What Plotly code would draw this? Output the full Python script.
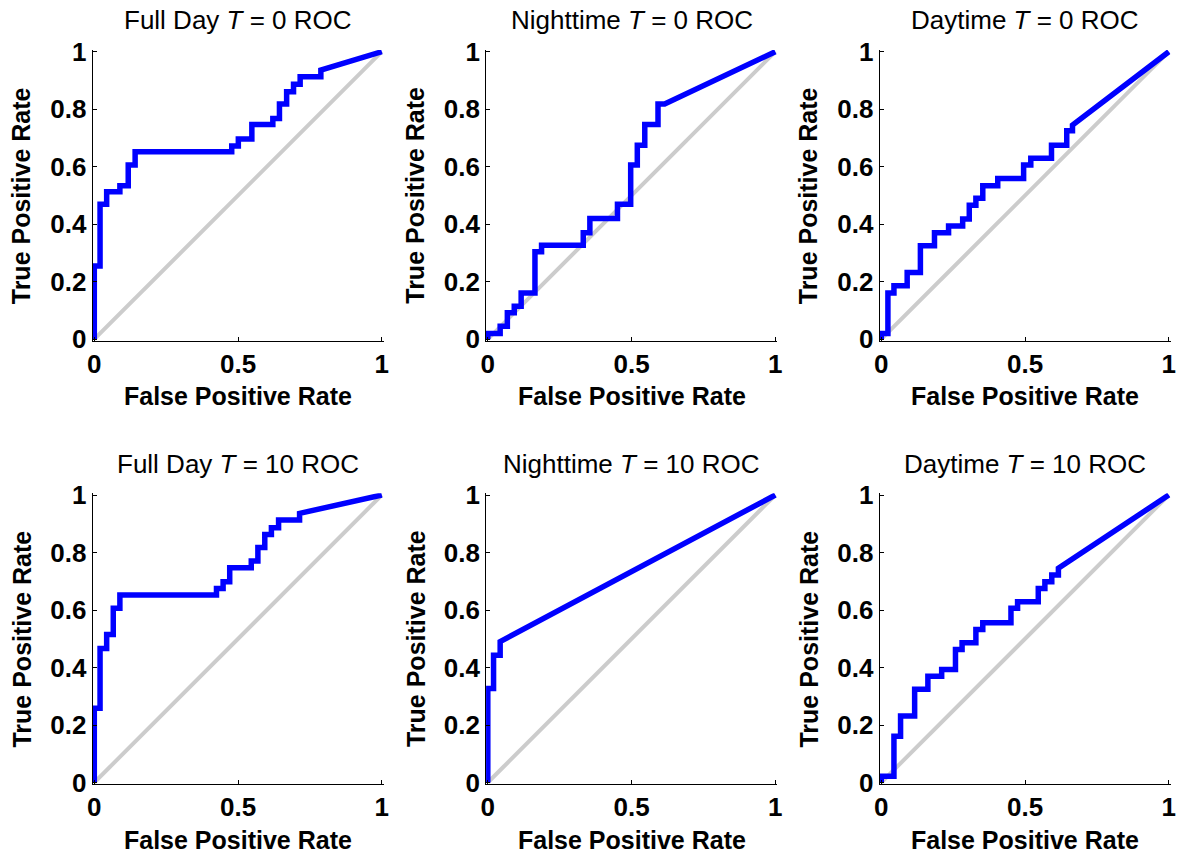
import plotly.graph_objects as go

# ---------------- data ----------------
titles = ["Full Day <i>T</i> = 0 ROC", "Nighttime <i>T</i> = 0 ROC", "Daytime <i>T</i> = 0 ROC",
          "Full Day <i>T</i> = 10 ROC", "Nighttime <i>T</i> = 10 ROC", "Daytime <i>T</i> = 10 ROC"]

fpr_full_t0 = [0, 0, 0.02, 0.02, 0.043, 0.043, 0.089, 0.089, 0.118, 0.118, 0.142, 0.142, 0.478, 0.478,
               0.501, 0.501, 0.548, 0.548, 0.621, 0.621, 0.644, 0.644, 0.669, 0.669, 0.693, 0.693,
               0.716, 0.716, 0.788, 0.788, 1]
tpr_full_t0 = [0, 0.255, 0.255, 0.469, 0.469, 0.513, 0.513, 0.534, 0.534, 0.606, 0.606, 0.652, 0.652, 0.672,
               0.672, 0.696, 0.696, 0.747, 0.747, 0.768, 0.768, 0.818, 0.818, 0.861, 0.861, 0.887,
               0.887, 0.913, 0.913, 0.936, 1]

fpr_night_t0 = [0, 0, 0.043, 0.043, 0.068, 0.068, 0.092, 0.092, 0.116, 0.116, 0.164, 0.164, 0.187, 0.187,
                0.332, 0.332, 0.355, 0.355, 0.451, 0.451, 0.497, 0.497, 0.52, 0.52, 0.546, 0.546,
                0.592, 0.592, 0.615, 1]
tpr_night_t0 = [0, 0.02, 0.02, 0.045, 0.045, 0.092, 0.092, 0.115, 0.115, 0.161, 0.161, 0.304, 0.304, 0.327,
                0.327, 0.37, 0.37, 0.42, 0.42, 0.469, 0.469, 0.606, 0.606, 0.675, 0.675, 0.747,
                0.747, 0.818, 0.818, 1]

fpr_day_t0 = [0, 0, 0.023, 0.023, 0.044, 0.044, 0.09, 0.09, 0.136, 0.136, 0.185, 0.185, 0.234, 0.234,
              0.283, 0.283, 0.306, 0.306, 0.329, 0.329, 0.353, 0.353, 0.405, 0.405, 0.495, 0.495,
              0.52, 0.52, 0.592, 0.592, 0.645, 0.645, 0.665, 0.665, 1]
tpr_day_t0 = [0, 0.02, 0.02, 0.161, 0.161, 0.186, 0.186, 0.232, 0.232, 0.325, 0.325, 0.37, 0.37, 0.394,
              0.394, 0.418, 0.418, 0.466, 0.466, 0.49, 0.49, 0.534, 0.534, 0.559, 0.559, 0.606,
              0.606, 0.629, 0.629, 0.675, 0.675, 0.725, 0.725, 0.745, 1]

fpr_full_t10 = [0, 0, 0.02, 0.02, 0.043, 0.043, 0.066, 0.066, 0.089, 0.089, 0.425, 0.425, 0.448, 0.448,
                0.471, 0.471, 0.546, 0.546, 0.569, 0.569, 0.593, 0.593, 0.616, 0.616, 0.641, 0.641,
                0.714, 0.714, 1]
tpr_full_t10 = [0, 0.258, 0.258, 0.466, 0.466, 0.515, 0.515, 0.606, 0.606, 0.652, 0.652, 0.675, 0.675, 0.698,
                0.698, 0.747, 0.747, 0.77, 0.77, 0.817, 0.817, 0.863, 0.863, 0.886, 0.886, 0.913,
                0.913, 0.936, 1]

fpr_night_t10 = [0, 0, 0.02, 0.02, 0.043, 0.043, 1]
tpr_night_t10 = [0, 0.327, 0.327, 0.443, 0.443, 0.49, 1]

fpr_day_t10 = [0, 0, 0.044, 0.044, 0.067, 0.067, 0.116, 0.116, 0.162, 0.162, 0.21, 0.21, 0.258, 0.258,
               0.281, 0.281, 0.329, 0.329, 0.353, 0.353, 0.451, 0.451, 0.474, 0.474, 0.546, 0.546,
               0.569, 0.569, 0.593, 0.593, 0.616, 0.616, 1]
tpr_day_t10 = [0, 0.022, 0.022, 0.161, 0.161, 0.231, 0.231, 0.324, 0.324, 0.37, 0.37, 0.393, 0.393, 0.463,
               0.463, 0.486, 0.486, 0.532, 0.532, 0.556, 0.556, 0.606, 0.606, 0.629, 0.629, 0.675,
               0.675, 0.698, 0.698, 0.722, 0.722, 0.745, 1]

chance_x = [0, 1]
chance_y = [0, 1]

x_tickvals = [0, 0.5, 1]
x_ticktext = ["0", "0.5", "1"]
y_tickvals = [0, 0.2, 0.4, 0.6, 0.8, 1]
y_ticktext = ["0", "0.2", "0.4", "0.6", "0.8", "1"]

x_label = "False Positive Rate"
y_label = "True Positive Rate"

curves = [(fpr_full_t0, tpr_full_t0), (fpr_night_t0, tpr_night_t0), (fpr_day_t0, tpr_day_t0),
          (fpr_full_t10, tpr_full_t10), (fpr_night_t10, tpr_night_t10), (fpr_day_t10, tpr_day_t10)]

# ---------------- layout geometry ----------------
W, H = 1182, 854
col_left = [94.3, 487.8, 881.3]
row_top = [51.7, 495.0]
span = 287.5
pad = 0.006
FONT = "Liberation Sans, Arial, Helvetica, sans-serif"

fig = go.Figure()
annotations = []
layout_axes = {}

for i, (fx, ty) in enumerate(curves):
    r, c = divmod(i, 3)
    n = i + 1
    xs = "" if n == 1 else str(n)
    xa, ya = "x" + xs, "y" + xs
    fig.add_trace(go.Scatter(x=chance_x, y=chance_y, mode="lines",
                             line=dict(color="#cccccc", width=4),
                             xaxis=xa, yaxis=ya, showlegend=False, hoverinfo="skip"))
    fig.add_trace(go.Scatter(x=fx, y=ty, mode="lines",
                             line=dict(color="#0000ff", width=5.5),
                             xaxis=xa, yaxis=ya, showlegend=False))
    x0 = col_left[c] - pad * span
    x1 = col_left[c] + span + pad * span
    yt = row_top[r] - pad * span
    yb = row_top[r] + span + pad * span
    common = dict(showline=True, linecolor="black", linewidth=1, mirror=False,
                  ticks="inside", ticklen=4, tickwidth=1, tickcolor="black",
                  showgrid=False, zeroline=False, range=[-pad, 1 + pad], fixedrange=True,
                  automargin=False,
                  tickfont=dict(family=FONT, size=26, color="black", weight="bold"))
    layout_axes["xaxis" + xs] = dict(common, domain=[x0 / W, x1 / W], anchor=ya,
                                     tickvals=x_tickvals, ticktext=x_ticktext)
    layout_axes["yaxis" + xs] = dict(common, domain=[1 - yb / H, 1 - yt / H], anchor=xa,
                                     tickvals=y_tickvals, ticktext=y_ticktext)

    cx = (col_left[c] + span / 2) / W
    # title
    annotations.append(dict(text=titles[i], x=cx, y=1 - (row_top[r] - 31.5) / H,
                            xref="paper", yref="paper", xanchor="center", yanchor="middle",
                            showarrow=False, font=dict(family=FONT, size=26, color="black")))
    # x label
    annotations.append(dict(text=x_label, x=cx, y=1 - (row_top[r] + span + 57) / H,
                            xref="paper", yref="paper", xanchor="center", yanchor="middle",
                            showarrow=False,
                            font=dict(family=FONT, size=25, color="black", weight="bold")))
    # y label
    annotations.append(dict(text=y_label, x=(col_left[c] - 72.5) / W,
                            y=1 - (row_top[r] + span / 2) / H,
                            xref="paper", yref="paper", xanchor="center", yanchor="middle",
                            textangle=-90, showarrow=False,
                            font=dict(family=FONT, size=25, color="black", weight="bold")))

fig.update_layout(width=W, height=H, margin=dict(l=0, r=0, t=0, b=0, autoexpand=False),
                  paper_bgcolor="white", plot_bgcolor="white",
                  annotations=annotations, **layout_axes)

fig.write_html("out.html", config={"displayModeBar": False},
               post_script="document.body.style.margin='0';document.body.style.overflow='hidden';")
